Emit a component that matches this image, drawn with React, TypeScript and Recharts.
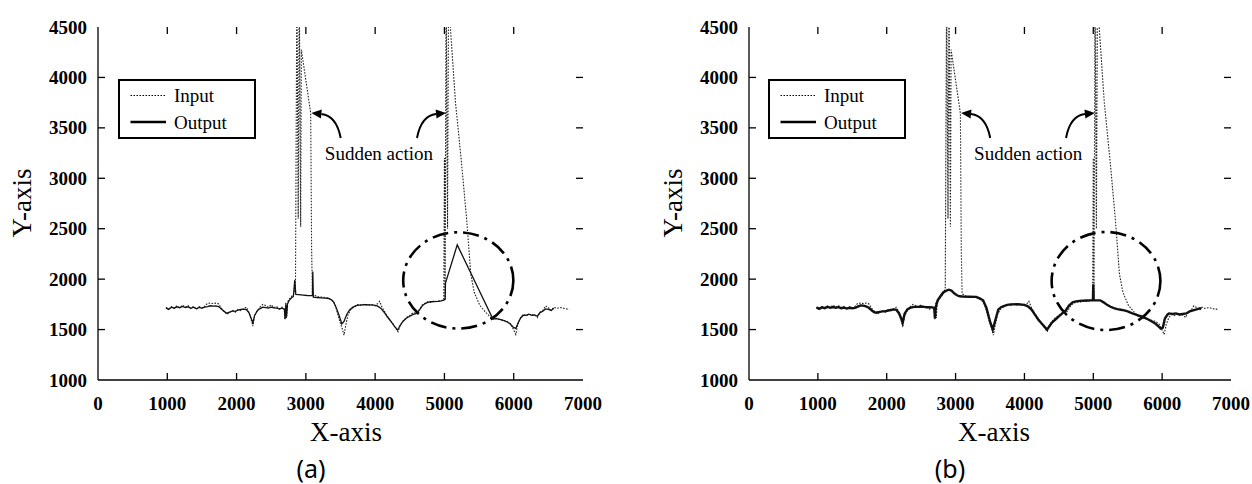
import React from 'react';
import {
  LineChart,
  Line,
  XAxis,
  YAxis,
  Legend,
  ReferenceArea,
  ReferenceLine,
  ReferenceDot,
} from 'recharts';

const SERIF = '"Liberation Serif", "Times New Roman", serif';
const SANS = '"Noto Sans", "Open Sans", sans-serif';

const xTicks = [0, 1000, 2000, 3000, 4000, 5000, 6000, 7000];
const yTicks = [1000, 1500, 2000, 2500, 3000, 3500, 4000, 4500];

// input signal (same in both panels), [x, y]
const inputPts: [number, number][] = [
  [980, 1720], [1020, 1705], [1060, 1728], [1100, 1712], [1140, 1735], [1180, 1718],
  [1220, 1742], [1260, 1722], [1300, 1738], [1340, 1708], [1380, 1730], [1420, 1702],
  [1460, 1726], [1500, 1712], [1540, 1732], [1580, 1760], [1620, 1762], [1660, 1758],
  [1700, 1762], [1740, 1755], [1780, 1712], [1820, 1680], [1860, 1652], [1900, 1672],
  [1940, 1688], [1980, 1672], [2020, 1698], [2060, 1688], [2100, 1705], [2140, 1722],
  [2180, 1668], [2210, 1600], [2235, 1535], [2260, 1632], [2300, 1690], [2340, 1725],
  [2380, 1750], [2420, 1738], [2460, 1722], [2500, 1745], [2540, 1718], [2580, 1728],
  [2620, 1702], [2660, 1722], [2690, 1700], [2700, 1598], [2710, 1765], [2720, 1615],
  [2735, 1772], [2760, 1800], [2790, 1825], [2820, 1848], [2850, 1910], [2870, 4900],
  [2890, 2600], [2905, 4900], [2925, 2520], [2935, 4275], [3070, 3645], [3083, 2290],
  [3095, 1855], [3130, 1838], [3180, 1826], [3230, 1822], [3280, 1818], [3330, 1812],
  [3370, 1790], [3400, 1778], [3430, 1730], [3460, 1650], [3490, 1580], [3520, 1520],
  [3550, 1445], [3575, 1540], [3610, 1650], [3650, 1700], [3700, 1728], [3750, 1748],
  [3800, 1740], [3850, 1752], [3900, 1742], [3950, 1748], [4000, 1735], [4040, 1760],
  [4065, 1780], [4100, 1720], [4150, 1660], [4200, 1610], [4250, 1565], [4290, 1520],
  [4330, 1478], [4360, 1540], [4400, 1582], [4450, 1618], [4500, 1640], [4550, 1668],
  [4600, 1662], [4640, 1700], [4680, 1745], [4720, 1762], [4760, 1775], [4800, 1770],
  [4850, 1782], [4900, 1778], [4950, 1785], [4990, 1792], [5000, 3200], [5010, 1800],
  [5025, 4900], [5045, 2500], [5060, 4900], [5090, 4450], [5160, 3750], [5240, 3200],
  [5320, 2600], [5380, 2050], [5430, 1870], [5510, 1740], [5600, 1668], [5690, 1605],
  [5750, 1612], [5800, 1598], [5850, 1592], [5900, 1582], [5950, 1560], [5990, 1510],
  [6030, 1452], [6060, 1555], [6100, 1622], [6140, 1650], [6180, 1638], [6220, 1655],
  [6260, 1642], [6300, 1648], [6340, 1620], [6380, 1672], [6420, 1690], [6460, 1735],
  [6500, 1718], [6540, 1690], [6580, 1722], [6620, 1710], [6680, 1718], [6740, 1708],
  [6800, 1700],
];

// output of panel (a)
const outputA: [number, number][] = [
  [980, 1715], [1020, 1700], [1060, 1722], [1100, 1712], [1140, 1726], [1180, 1716],
  [1220, 1730], [1260, 1718], [1300, 1726], [1340, 1710], [1380, 1722], [1420, 1706],
  [1460, 1720], [1500, 1712], [1540, 1722], [1580, 1728], [1620, 1736], [1660, 1732],
  [1700, 1735], [1740, 1728], [1780, 1705], [1820, 1680], [1860, 1662], [1900, 1672],
  [1940, 1685], [1980, 1680], [2020, 1692], [2060, 1700], [2100, 1702], [2140, 1698],
  [2180, 1665], [2210, 1612], [2235, 1565], [2260, 1640], [2300, 1688], [2340, 1708],
  [2380, 1722], [2420, 1718], [2460, 1712], [2500, 1722], [2540, 1715], [2580, 1712],
  [2620, 1705], [2660, 1712], [2690, 1702], [2700, 1605], [2712, 1745], [2722, 1630],
  [2735, 1755], [2760, 1790], [2790, 1812], [2820, 1828], [2840, 1990], [2855, 1848],
  [2900, 1846], [2960, 1842], [3020, 1838], [3095, 1836], [3100, 2075], [3108, 1822],
  [3160, 1818], [3220, 1815], [3280, 1812], [3330, 1808], [3370, 1795], [3400, 1775],
  [3440, 1715], [3480, 1640], [3520, 1555], [3550, 1580], [3590, 1650], [3630, 1695],
  [3680, 1722], [3740, 1740], [3800, 1745], [3860, 1746], [3920, 1744], [3980, 1742],
  [4030, 1735], [4080, 1712], [4130, 1672], [4180, 1622], [4230, 1578], [4280, 1532],
  [4325, 1495], [4360, 1540], [4400, 1580], [4450, 1612], [4500, 1632], [4550, 1650],
  [4600, 1660], [4640, 1695], [4680, 1735], [4720, 1758], [4760, 1770], [4800, 1776],
  [4850, 1778], [4900, 1780], [4950, 1784], [4990, 1792], [5010, 1800], [5015, 1960],
  [5185, 2340], [5700, 1605], [5750, 1608], [5800, 1600], [5850, 1592], [5900, 1578],
  [5950, 1555], [5990, 1525], [6030, 1510], [6060, 1560], [6100, 1615], [6140, 1642],
  [6180, 1640], [6220, 1652], [6260, 1642], [6300, 1645], [6340, 1632], [6380, 1668],
  [6420, 1682], [6460, 1705], [6500, 1700], [6540, 1690], [6580, 1712],
];

// output of panel (b)
const outputB: [number, number][] = [
  [980, 1720], [1020, 1705], [1060, 1720], [1100, 1712], [1140, 1725], [1180, 1716],
  [1220, 1724], [1260, 1716], [1300, 1722], [1340, 1712], [1380, 1718], [1420, 1708],
  [1460, 1716], [1500, 1712], [1540, 1715], [1580, 1728], [1620, 1740], [1660, 1738],
  [1700, 1730], [1740, 1716], [1780, 1692], [1820, 1672], [1860, 1670], [1900, 1676],
  [1940, 1680], [1980, 1682], [2020, 1688], [2060, 1694], [2100, 1700], [2140, 1696],
  [2180, 1660], [2210, 1610], [2230, 1565], [2260, 1658], [2300, 1700], [2340, 1715],
  [2380, 1722], [2420, 1725], [2460, 1726], [2500, 1728], [2540, 1725], [2580, 1722],
  [2620, 1722], [2660, 1720], [2690, 1715], [2700, 1610], [2712, 1722], [2740, 1790],
  [2780, 1830], [2820, 1868], [2860, 1884], [2900, 1895], [2940, 1886], [2980, 1860],
  [3020, 1840], [3060, 1830], [3100, 1828], [3200, 1826], [3300, 1824], [3350, 1810],
  [3400, 1790], [3450, 1712], [3500, 1580], [3540, 1500], [3580, 1600], [3620, 1698],
  [3660, 1722], [3700, 1732], [3750, 1745], [3800, 1750], [3900, 1752], [3950, 1748],
  [4000, 1745], [4050, 1730], [4100, 1700], [4150, 1650], [4200, 1600], [4250, 1560],
  [4300, 1522], [4330, 1500], [4360, 1530], [4400, 1570], [4450, 1600], [4500, 1630],
  [4550, 1660], [4600, 1690], [4650, 1740], [4700, 1770], [4750, 1780], [4800, 1785],
  [4900, 1788], [4995, 1792], [5000, 1950], [5005, 1792], [5100, 1790], [5150, 1770],
  [5200, 1745], [5250, 1726], [5300, 1712], [5350, 1702], [5400, 1696], [5450, 1690],
  [5500, 1680], [5550, 1666], [5600, 1652], [5650, 1641], [5700, 1630], [5750, 1615],
  [5800, 1600], [5850, 1580], [5900, 1560], [5950, 1530], [5980, 1510], [6010, 1520],
  [6040, 1610], [6080, 1650], [6100, 1660], [6150, 1655], [6200, 1660], [6250, 1650],
  [6300, 1655], [6350, 1660], [6400, 1680], [6450, 1690], [6500, 1700], [6550, 1712],
  [6570, 1705],
];

// annotation positions in data units
const noteText = { x: 4055, y: 3250 };
const arrowLeft = [{ x: 3503, y: 3400 }, { x: 3080, y: 3647 }];
const arrowRight = [{ x: 4604, y: 3400 }, { x: 5023, y: 3647 }];
const ringA = { x1: 4405, x2: 5995, y1: 1510, y2: 2465 };
const ringB = { x1: 4395, x2: 5975, y1: 1495, y2: 2468 };

const rows = (pts: [number, number][]) => pts.map(([x, y]) => ({ x, y }));

const axisStroke = { stroke: '#000', strokeWidth: 1.3 };
const TICK_LEN = 7;

const XTick = (p: any) => (
  <text x={p.x} y={p.y} dy="0.72em" textAnchor="middle" fontFamily={SERIF} fontSize={19} fontWeight={700} fill="#000">
    {p.payload.value}
  </text>
);

const YTick = (p: any) => (
  <text x={p.x} y={p.y} textAnchor="end" dominantBaseline="central" fontFamily={SERIF} fontSize={19} fontWeight={700} fill="#000">
    {p.payload.value}
  </text>
);

// inward tick marks on both ends of a reference line spanning the plot
const InwardTicks = (p: any) => {
  const { x1, y1, x2, y2 } = p;
  if (Math.abs(x1 - x2) < 0.5) {
    const top = Math.min(y1, y2);
    const bot = Math.max(y1, y2);
    return (
      <g>
        <line x1={x1} x2={x1} y1={bot} y2={bot - TICK_LEN} stroke="#000" strokeWidth={1.3} />
        <line x1={x1} x2={x1} y1={top} y2={top + TICK_LEN} stroke="#000" strokeWidth={1.3} />
      </g>
    );
  }
  const lft = Math.min(x1, x2);
  const rgt = Math.max(x1, x2);
  return (
    <g>
      <line x1={lft} x2={lft + TICK_LEN} y1={y1} y2={y1} stroke="#000" strokeWidth={1.3} />
      <line x1={rgt} x2={rgt - TICK_LEN} y1={y1} y2={y1} stroke="#000" strokeWidth={1.3} />
    </g>
  );
};

const Ellipse = (p: any) => (
  <ellipse
    cx={p.x + p.width / 2}
    cy={p.y + p.height / 2}
    rx={p.width / 2}
    ry={p.height / 2}
    fill="none"
    stroke="#000"
    strokeWidth={2.6}
    strokeDasharray="16 6 3 6"
  />
);

const Arrow = (p: any) => {
  const { x1, y1, x2, y2 } = p;
  const cx = x1 + (x2 - x1) * 0.15;
  const cy = y2 + (y1 - y2) * 0.1;
  const ang = Math.atan2(y2 - cy, x2 - cx);
  const L = 10;
  const W = 4.5;
  const bx = x2 - L * Math.cos(ang);
  const by = y2 - L * Math.sin(ang);
  const px = -Math.sin(ang) * W;
  const py = Math.cos(ang) * W;
  return (
    <g>
      <path d={`M${x1},${y1} Q${cx},${cy} ${bx},${by}`} fill="none" stroke="#000" strokeWidth={2} />
      <path d={`M${x2},${y2} L${bx + px},${by + py} L${bx - px},${by - py} Z`} fill="#000" />
    </g>
  );
};

const NoteShape = (p: any) => (
  <text x={p.cx} y={p.cy} textAnchor="middle" dominantBaseline="central" fontFamily={SERIF} fontSize={19} fill="#000">
    Sudden action
  </text>
);

const LegendBox = () => (
  <div
    style={{
      width: 138,
      height: 60,
      border: '2px solid #000',
      boxSizing: 'border-box',
      background: '#fff',
    }}
  >
    <svg width={134} height={56} style={{ display: 'block' }}>
      <line x1={10.5} x2={46} y1={14.5} y2={14.5} stroke="#000" strokeWidth={1.2} strokeDasharray="1.5 1.5" />
      <text x={54} y={14.5} dominantBaseline="central" fontFamily={SERIF} fontSize={19} fill="#000">Input</text>
      <line x1={10.5} x2={46} y1={41} y2={41} stroke="#000" strokeWidth={2.6} />
      <text x={54} y={41} dominantBaseline="central" fontFamily={SERIF} fontSize={19} fill="#000">Output</text>
    </svg>
  </div>
);

interface PanelProps {
  left: number;
  width: number;
  plotLeft: number;
  plotRight: number;
  output: [number, number][];
  outWidth: number;
  ring: { x1: number; x2: number; y1: number; y2: number };
  legendLeft: number;
  yLabelX: number;
  xLabelX: number;
  caption: string;
  captionX: number;
}

function Panel(p: PanelProps) {
  return (
    <div style={{ position: 'absolute', left: p.left, top: 0 }}>
      <LineChart
        width={p.width}
        height={484}
        margin={{ top: 27, right: p.width - p.plotRight, bottom: 0, left: 0 }}
      >
        <XAxis
          xAxisId="b"
          type="number"
          dataKey="x"
          domain={[0, 7000]}
          ticks={xTicks}
          interval={0}
          allowDataOverflow
          height={104}
          tickSize={0}
          tickMargin={16}
          tick={XTick}
          axisLine={axisStroke}
          tickLine={false}
          label={{
            value: 'X-axis',
            content: () => (
              <g>
                <text x={p.xLabelX} y={441} textAnchor="middle" fontFamily={SERIF} fontSize={27} fill="#000">
                  X-axis
                </text>
                <text x={p.captionX} y={478} textAnchor="middle" fontFamily={SANS} fontSize={25} fill="#000">
                  {p.caption}
                </text>
              </g>
            ),
          }}
        />
        <XAxis
          xAxisId="t"
          orientation="top"
          type="number"
          dataKey="x"
          domain={[0, 7000]}
          ticks={xTicks}
          height={0}
          tick={false}
          tickLine={false}
          axisLine={axisStroke}
        />
        <YAxis
          yAxisId="l"
          type="number"
          domain={[1000, 4500]}
          ticks={yTicks}
          interval={0}
          allowDataOverflow
          width={p.plotLeft}
          tickSize={0}
          tickMargin={11}
          tick={YTick}
          axisLine={axisStroke}
          tickLine={false}
          label={{
            value: 'Y-axis',
            content: () => (
              <text
                x={p.yLabelX}
                y={203}
                transform={`rotate(-90 ${p.yLabelX} 203)`}
                textAnchor="middle"
                dominantBaseline="central"
                fontFamily={SERIF}
                fontSize={27}
                fill="#000"
              >
                Y-axis
              </text>
            ),
          }}
        />
        <YAxis
          yAxisId="r"
          orientation="right"
          type="number"
          domain={[1000, 4500]}
          ticks={yTicks}
          width={0}
          tick={false}
          tickLine={false}
          axisLine={axisStroke}
        />
        <Legend
          layout="vertical"
          align="center"
          verticalAlign="middle"
          content={() => <LegendBox />}
          wrapperStyle={{ left: p.legendLeft, top: 79, width: 138, height: 60 }}
        />
        {xTicks.slice(1, -1).map((t) => (
          <ReferenceLine key={`tx${t}`} xAxisId="b" yAxisId="l" x={t} shape={InwardTicks} />
        ))}
        {yTicks.slice(1, -1).map((t) => (
          <ReferenceLine key={`ty${t}`} xAxisId="b" yAxisId="l" y={t} shape={InwardTicks} />
        ))}
        <Line
          xAxisId="b"
          yAxisId="l"
          data={rows(inputPts)}
          dataKey="y"
          name="Input"
          type="linear"
          stroke="#222"
          strokeWidth={1.1}
          strokeDasharray="1.6 1.4"
          dot={false}
          isAnimationActive={false}
        />
        <Line
          xAxisId="b"
          yAxisId="l"
          data={rows(p.output)}
          dataKey="y"
          name="Output"
          type="linear"
          stroke="#111"
          strokeWidth={p.outWidth}
          dot={false}
          isAnimationActive={false}
        />
        <ReferenceArea
          xAxisId="b"
          yAxisId="l"
          x1={p.ring.x1}
          x2={p.ring.x2}
          y1={p.ring.y1}
          y2={p.ring.y2}
          shape={Ellipse}
        />
        <ReferenceLine xAxisId="b" yAxisId="l" segment={arrowLeft} shape={Arrow} />
        <ReferenceLine xAxisId="b" yAxisId="l" segment={arrowRight} shape={Arrow} />
        <ReferenceDot xAxisId="b" yAxisId="l" x={noteText.x} y={noteText.y} r={0} shape={NoteShape} />
      </LineChart>
    </div>
  );
}

export default function App() {
  return (
    <div
      style={{
        position: 'absolute',
        left: 0,
        top: 0,
        width: 1252,
        height: 484,
        background: '#fff',
        overflow: 'hidden',
      }}
    >
      <Panel
        left={0}
        width={620}
        plotLeft={98}
        plotRight={583}
        output={outputA}
        outWidth={1.3}
        ring={ringA}
        legendLeft={118}
        yLabelX={22}
        xLabelX={346}
        caption="(a)"
        captionX={311}
      />
      <Panel
        left={620}
        width={632}
        plotLeft={129}
        plotRight={611}
        output={outputB}
        outWidth={2.4}
        ring={ringB}
        legendLeft={148}
        yLabelX={53}
        xLabelX={374}
        caption="(b)"
        captionX={330}
      />
    </div>
  );
}
